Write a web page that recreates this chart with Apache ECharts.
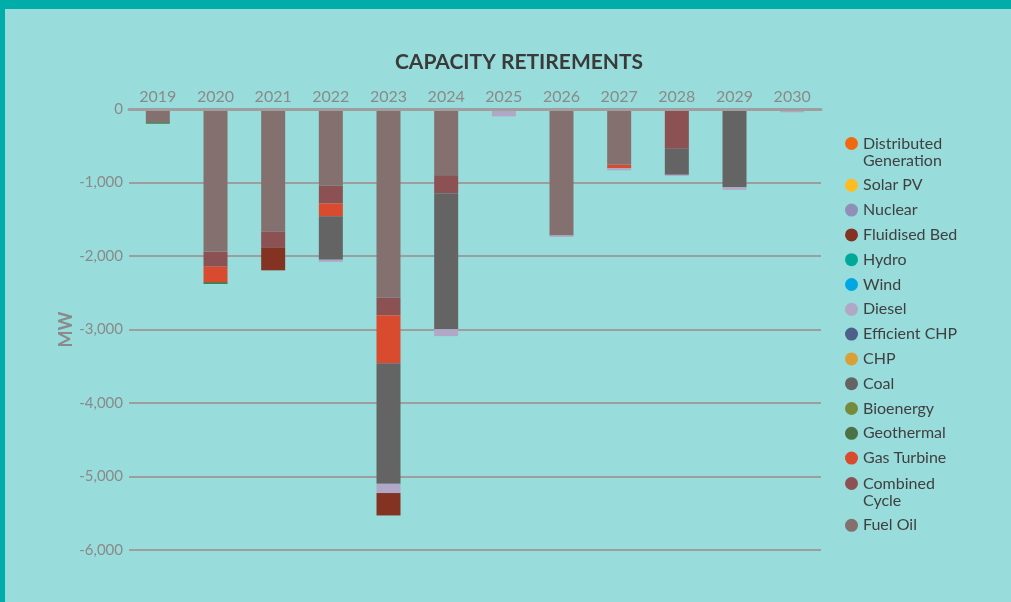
<!doctype html>
<html>
<head>
<meta charset="UTF-8">
<title>Capacity Retirements</title>
<script src="https://cdn.jsdelivr.net/npm/echarts@6/dist/echarts.min.js"></script>
<style>
  html, body { margin: 0; padding: 0; background: #00ADA9; }
  #chart {
    width: 1006px;
    height: 593px;
    border-top: 9px solid #00ADA9;
    border-left: 5px solid #00ADA9;
    background: #98DDDB;
  }
</style>
</head>
<body>
<div id="chart"></div>
<script>
// years and retirements (MW, negative = retired)
var years = ['2019', '2020', '2021', '2022', '2023', '2024', '2025', '2026', '2027', '2028', '2029', '2030'];

var fuelOil       = [-180, -1940, -1670, -1045, -2565, -910, 0, -1720, -760, 0, 0, 0];
var combinedCycle = [0, -205, -220, -240, -240, -235, 0, 0, 0, -540, 0, 0];
var gasTurbine    = [0, -210, 0, -175, -655, 0, 0, 0, -45, 0, 0, 0];
var geothermal    = [-20, -25, 0, 0, 0, 0, 0, 0, 0, 0, 0, 0];
var bioenergy     = [0, 0, 0, 0, 0, 0, 0, 0, 0, 0, 0, 0];
var coal          = [0, 0, 0, -590, -1640, -1850, 0, 0, 0, -355, -1065, 0];
var chp           = [0, 0, 0, 0, 0, 0, 0, 0, 0, 0, 0, 0];
var efficientChp  = [0, 0, 0, 0, 0, 0, 0, 0, 0, 0, 0, 0];
var diesel        = [0, 0, 0, -30, -125, -95, -100, -20, -30, -15, -35, -45];
var wind          = [0, 0, 0, 0, 0, 0, 0, 0, 0, 0, 0, 0];
var hydro         = [0, 0, 0, 0, 0, 0, 0, 0, 0, 0, 0, 0];
var fluidisedBed  = [0, 0, -305, 0, -305, 0, 0, 0, 0, 0, 0, 0];
var nuclear       = [0, 0, 0, 0, 0, 0, 0, 0, 0, 0, 0, 0];
var solarPv       = [0, 0, 0, 0, 0, 0, 0, 0, 0, 0, 0, 0];
var distributed   = [0, 0, 0, 0, 0, 0, 0, 0, 0, 0, 0, 0];

var yTicks = [0, -1000, -2000, -3000, -4000, -5000, -6000];

// stack order, top of bar first
var stackList = [
  ['Fuel Oil', fuelOil, '#857070'],
  ['Combined Cycle', combinedCycle, '#8B5153'],
  ['Gas Turbine', gasTurbine, '#D94B2F'],
  ['Geothermal', geothermal, '#4A7244'],
  ['Bioenergy', bioenergy, '#768A3D'],
  ['Coal', coal, '#646464'],
  ['CHP', chp, '#D9A036'],
  ['Efficient CHP', efficientChp, '#4D6089'],
  ['Diesel', diesel, '#B0A8C6'],
  ['Wind', wind, '#00A7E4'],
  ['Hydro', hydro, '#00A898'],
  ['Fluidised Bed', fluidisedBed, '#843323'],
  ['Nuclear', nuclear, '#8F8FB8'],
  ['Solar PV', solarPv, '#FDBD22'],
  ['Distributed Generation', distributed, '#F0690F']
];

var series = stackList.map(function (s) {
  return {
    name: s[0],
    type: 'bar',
    stack: 'ret',
    barWidth: 24,
    data: s[1].map(function (v) { return v === 0 ? '-' : v; }),
    itemStyle: { color: s[2] }
  };
});

var legendNames = stackList.map(function (s) { return s[0]; }).reverse();

// leading empty line keeps the circle on the first text line
function legendLabel(name) {
  if (name === 'Distributed Generation') return '\nDistributed\nGeneration';
  if (name === 'Combined Cycle') return '\nCombined\nCycle';
  return name;
}

var legendBase = {
  orient: 'vertical',
  left: 840,
  padding: 0,
  icon: 'circle',
  itemWidth: 13,
  itemHeight: 13,
  itemGap: 7.8,
  formatter: legendLabel,
  textStyle: { fontFamily: 'Lato', fontSize: 16, color: '#404040', lineHeight: 17 }
};

var chart = echarts.init(document.getElementById('chart'));
chart.setOption({
  backgroundColor: '#98DDDB',
  animation: false,
  title: {
    text: 'CAPACITY RETIREMENTS',
    left: 509,
    top: 38,
    textAlign: 'center',
    textStyle: { fontFamily: 'Lato', fontWeight: 'bold', fontSize: 21, color: '#3a3a3a' }
  },
  legend: [
    Object.assign({}, legendBase, { top: 109, data: legendNames.slice(0, 13) }),
    Object.assign({}, legendBase, { top: 449, data: legendNames.slice(13) })
  ],
  grid: { left: 124, right: 190, top: 100, bottom: 52 },
  xAxis: {
    type: 'category',
    position: 'top',
    data: years,
    z: 5,
    axisLine: { lineStyle: { color: '#9E9E9E', width: 3 } },
    axisTick: { show: false },
    axisLabel: { fontFamily: 'Lato', fontSize: 16, color: '#8a8a8a', margin: 4 }
  },
  yAxis: {
    type: 'value',
    min: yTicks[yTicks.length - 1],
    max: yTicks[0],
    interval: 1000,
    name: 'MW',
    nameLocation: 'middle',
    nameGap: 54,
    nameMoveOverlap: false,
    nameTextStyle: { fontFamily: 'Lato', fontWeight: 'bold', fontSize: 18, color: '#8a8a8a' },
    axisLine: { show: false },
    axisTick: { show: false },
    axisLabel: {
      fontFamily: 'Lato', fontSize: 15, color: '#8a8a8a', margin: 6,
      formatter: function (v) { return v.toLocaleString('en-US'); }
    },
    splitLine: { lineStyle: { color: '#9E9E9E', width: 2 } }
  },
  series: series
});
</script>
</body>
</html>
